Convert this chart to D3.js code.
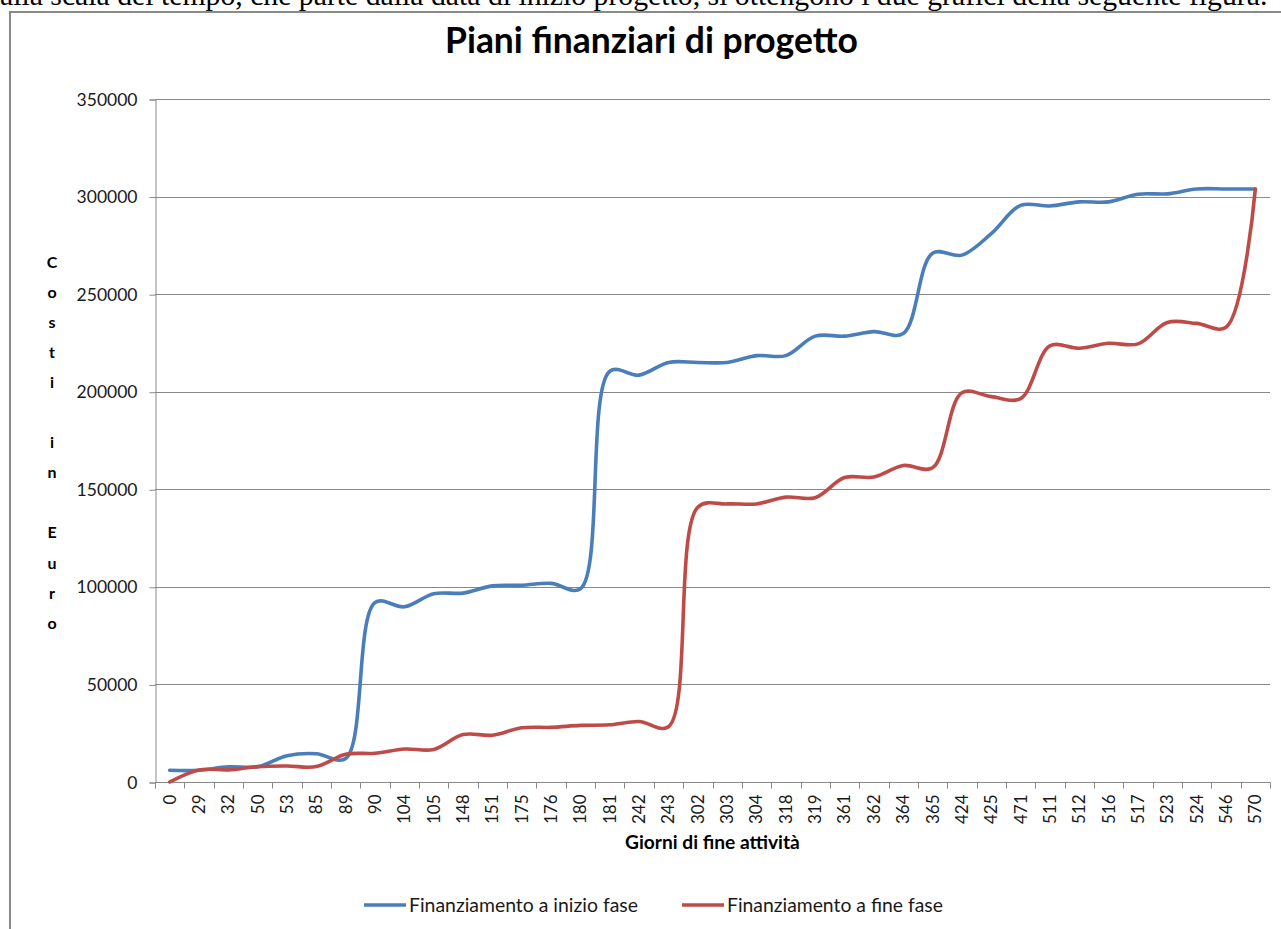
<!DOCTYPE html>
<html>
<head>
<meta charset="utf-8">
<script src="https://cdn.jsdelivr.net/npm/d3@7"></script>
<style>
  html, body { margin: 0; padding: 0; background: #fff; overflow: hidden; }
  svg { display: block; }
</style>
</head>
<body>
<svg id="chart" width="1281" height="929"></svg>
<script>
// Giorni di fine attività (categorie dell'asse X)
const giorni = [0, 29, 32, 50, 53, 85, 89, 90, 104, 105, 148, 151, 175, 176, 180, 181,
  242, 243, 302, 303, 304, 318, 319, 361, 362, 364, 365, 424, 425, 471, 511, 512,
  516, 517, 523, 524, 546, 570];

// Costi cumulati in euro – finanziamento a inizio fase
const inizioFase = [6000, 6000, 7800, 7800, 13500, 14500, 12000, 92000, 89800, 96500,
  96800, 100500, 100800, 101800, 99000, 210500, 208500, 215000, 215000, 215000,
  218500, 218500, 228500, 228500, 230800, 229800, 271000, 270000, 281000, 295500,
  295200, 297300, 297300, 301200, 301400, 303900, 303900, 303900];

// Costi cumulati in euro – finanziamento a fine fase
const fineFase = [0, 6200, 6200, 7900, 8200, 7900, 14200, 14700, 16900, 16700,
  24300, 24000, 27800, 28000, 29000, 29300, 31000, 28300, 140800, 142500,
  142500, 146000, 145700, 156000, 156300, 162200, 161000, 199500, 197500, 196500,
  223500, 222300, 224800, 224500, 235500, 235000, 233000, 303900];

const yTicks = [0, 50000, 100000, 150000, 200000, 250000, 300000, 350000];

const serie = [
  { nome: "Finanziamento a inizio fase", valori: inizioFase, colore: "#4a7ebb" },
  { nome: "Finanziamento a fine fase", valori: fineFase, colore: "#be4b48" }
];

const titolo = "Piani finanziari di progetto";
const titoloX = "Giorni di fine attività";
const titoloY = "Costi in Euro";
const testoSopra = "alla scala del tempo, che parte dalla data di inizio progetto, si ottengono i due grafici della seguente figura.";

const svg = d3.select("#chart");
const font = "Lato, 'Open Sans', sans-serif";
const gridColor = "#898989";

// scale a text element so that its rendered width equals w
function fitWidth(sel, w) {
  const len = sel.node().getComputedTextLength();
  const fs = parseFloat(sel.attr("font-size"));
  sel.attr("font-size", fs * w / len);
}

// paragraph line of the surrounding document, cut by the top edge
const para = svg.append("text")
  .attr("x", 0).attr("y", 5)
  .attr("font-family", "'Liberation Serif', 'Times New Roman', serif")
  .attr("font-size", 21)
  .attr("fill", "#000")
  .text(testoSopra);
fitWidth(para, 1268);

// chart frame
svg.append("path")
  .attr("d", "M10,929 L10,12 L1281,12")
  .attr("fill", "none")
  .attr("stroke", "#8a8a8a")
  .attr("stroke-width", 2);

const plot = { left: 155, right: 1270, top: 99, bottom: 782 };

const x = d3.scaleBand()
  .domain(giorni.map(String))
  .range([plot.left, plot.right])
  .paddingInner(0).paddingOuter(0);

const y = d3.scaleLinear()
  .domain([0, 350000])
  .range([plot.bottom, plot.top]);

// horizontal gridlines
svg.append("g")
  .selectAll("line")
  .data(yTicks.filter(d => d > 0))
  .join("line")
  .attr("x1", plot.left).attr("x2", plot.right)
  .attr("y1", d => Math.round(y(d)) + 0.5)
  .attr("y2", d => Math.round(y(d)) + 0.5)
  .attr("stroke", gridColor)
  .attr("stroke-width", 1);

// Y axis
const yAxis = svg.append("g")
  .attr("transform", `translate(${plot.left + 0.5},0.5)`)
  .call(d3.axisLeft(y).tickValues(yTicks).tickSize(6).tickPadding(12).tickFormat(d3.format("d")));
yAxis.select(".domain").attr("stroke", gridColor);
yAxis.selectAll(".tick line").attr("stroke", gridColor);
yAxis.selectAll(".tick text")
  .attr("font-family", font)
  .attr("font-size", 17.5)
  .attr("fill", "#1a1a1a");

// X axis with tick marks at category boundaries
const xAxisG = svg.append("g")
  .attr("transform", `translate(0,${Math.round(plot.bottom) + 0.5})`);
xAxisG.append("line")
  .attr("x1", plot.left).attr("x2", plot.right)
  .attr("stroke", gridColor);
const bounds = giorni.map(g => x(String(g))).concat([x(String(giorni[giorni.length - 1])) + x.bandwidth()]);
xAxisG.selectAll("line.tk")
  .data(bounds)
  .join("line")
  .attr("class", "tk")
  .attr("x1", d => Math.round(d) + 0.5).attr("x2", d => Math.round(d) + 0.5)
  .attr("y1", 0).attr("y2", 6)
  .attr("stroke", gridColor);
xAxisG.selectAll("text")
  .data(giorni)
  .join("text")
  .attr("transform", d => `translate(${x(String(d)) + x.bandwidth() / 2},12) rotate(-90)`)
  .attr("text-anchor", "end")
  .attr("dy", "0.35em")
  .attr("font-family", font)
  .attr("font-size", 17)
  .attr("fill", "#1a1a1a")
  .text(d => d);

// smoothed series lines
const line = d3.line()
  .x((d, i) => x(String(giorni[i])) + x.bandwidth() / 2)
  .y(d => y(d))
  .curve(d3.curveCatmullRom.alpha(0.5));

svg.append("g")
  .selectAll("path")
  .data(serie)
  .join("path")
  .attr("d", s => line(s.valori))
  .attr("fill", "none")
  .attr("stroke", s => s.colore)
  .attr("stroke-width", 3.6)
  .attr("stroke-linejoin", "round")
  .attr("stroke-linecap", "round");

// chart title
const t = svg.append("text")
  .attr("x", 445).attr("y", 53)
  .attr("font-family", font)
  .attr("font-weight", "bold")
  .attr("font-size", 28)
  .attr("fill", "#000")
  .text(titolo);
fitWidth(t, 413);

// X axis title
const tx = svg.append("text")
  .attr("x", 625).attr("y", 849)
  .attr("font-family", font)
  .attr("font-weight", "bold")
  .attr("font-size", 17)
  .attr("fill", "#000")
  .text(titoloX);
fitWidth(tx, 175);

// Y axis title: one letter per line
const lettere = titoloY.split("");
const passo = 30.1;
const centroY = (plot.top + plot.bottom) / 2 + 2;
svg.append("g")
  .selectAll("text")
  .data(lettere)
  .join("text")
  .attr("x", 52)
  .attr("y", (d, i) => centroY + (i - (lettere.length - 1) / 2) * passo)
  .attr("dy", "0.35em")
  .attr("text-anchor", "middle")
  .attr("font-family", font)
  .attr("font-weight", "bold")
  .attr("font-size", 16)
  .attr("fill", "#000")
  .text(d => d);

// legend
const legendItems = [
  { x1: 364, x2: 406, tx: 409, w: 229 },
  { x1: 682, x2: 724, tx: 727, w: 216 }
];
const leg = svg.append("g");
serie.forEach((s, i) => {
  const p = legendItems[i];
  leg.append("line")
    .attr("x1", p.x1).attr("x2", p.x2)
    .attr("y1", 905).attr("y2", 905)
    .attr("stroke", s.colore)
    .attr("stroke-width", 3.6);
  const lt = leg.append("text")
    .attr("x", p.tx).attr("y", 905)
    .attr("dy", "0.35em")
    .attr("font-family", font)
    .attr("font-size", 16)
    .attr("fill", "#1a1a1a")
    .text(s.nome);
  fitWidth(lt, p.w);
});
</script>
</body>
</html>
